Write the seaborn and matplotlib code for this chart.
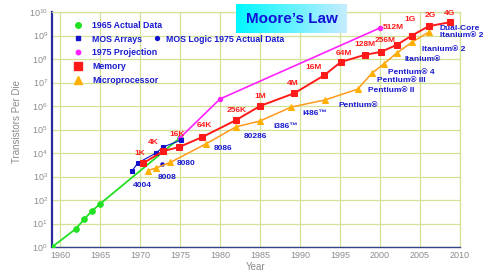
import numpy as np
import matplotlib
matplotlib.use("Agg")
import matplotlib.pyplot as plt
from matplotlib.lines import Line2D
from matplotlib.colors import LinearSegmentedColormap
import seaborn as sns

# --- data ---
# 1965 actual data (green)
actual_years = [1959, 1962, 1963, 1964, 1965, 1975]
actual_vals = [1, 6, 15, 34, 68, 4.4e4]

# 1975 projection (magenta)
proj_years = [1975, 1980, 2000]
proj_vals = [4.4e4, 2e6, 2.1e9]

# MOS arrays (blue squares) and MOS logic (blue dot)
mos_arr_years = [1969, 1969.7, 1972, 1972.9, 1975.1]
mos_arr_vals = [1.7e3, 3.7e3, 1e4, 1.8e4, 3.5e4]
mos_logic_years = [1972.8]
mos_logic_vals = [3.4e3]

# Memory (red)
mem_years = [1970.4, 1972.9, 1974.9, 1977.8, 1982, 1985, 1989.3, 1993,
             1995.1, 1998.1, 2000.1, 2002.1, 2004, 2006.1, 2008.8]
mem_vals = [3.7e3, 1.2e4, 1.8e4, 4.8e4, 2.5e5, 1e6, 3.5e6, 2e7,
            7.4e7, 1.5e8, 2e8, 4e8, 1e9, 2.5e9, 3.7e9]
mem_labels = ["1K", "4K", "16K", "64K", "256K", "1M", "4M", "16M",
              "64M", "128M", "256M", "", "1G", "2G", "4G"]

# Microprocessor (orange)
cpu_years = [1971, 1972, 1973.8, 1978.2, 1982, 1985, 1988.9, 1993.1,
             1997.2, 1999, 2000.5, 2002.1, 2004, 2006.1]
cpu_vals = [1.8e3, 2.3e3, 4e3, 2.4e4, 1.3e5, 2.3e5, 9e5, 1.8e6,
            5.2e6, 2.5e7, 6.3e7, 1.8e8, 5.2e8, 1.4e9]
cpu_labels = ["4004", "8008", "8080", "8086", "80286", "i386™", "i486™",
              "Pentium®", "Pentium® II", "Pentium® III", "Pentium® 4",
              "Itanium®", "Itanium® 2", "Dual-Core\nItanium® 2"]

year_ticks = [1960, 1965, 1970, 1975, 1980, 1985, 1990, 1995, 2000, 2005, 2010]
decades = [10.0 ** k for k in range(11)]

# label offsets in pixels (dx, dy, ha)
mem_offsets = [(-3, 10), (-10, 9), (-2, 13), (2, 11), (1, 10), (0, 9), (-2, 10),
               (-10, 8), (3, 9), (0, 10), (4, 11), (0, 0), (-2, 16), (1, 11), (-1, 9)]
cpu_offsets = [(-6, -15, "center"), (11, -10, "center"), (16, -1, "center"),
               (17, -4, "center"), (19, -10, "center"), (13, -6, "left"),
               (11, -6, "left"), (14, -5, "left"), (10, -1, "left"),
               (5, -7, "left"), (4, -9, "left"), (8, -6, "left"),
               (10, -7, "left"), (11, 0, "left")]

GREEN = "#22e022"
MAGENTA = "#ff22ff"
BLUE = "#1111cc"
RED = "#ff1a1a"
ORANGE = "#ff9a1a"
TRI = "#ffb000"
TXT = "#1a1ad0"
GRID = "#d2e296"
GRAY = "#8c8c8c"

sns.set_theme(style="whitegrid")
plt.rcParams["font.family"] = ["Liberation Sans", "DejaVu Sans"]

fig = plt.figure(figsize=(4.88, 2.76), dpi=100)
ax = fig.add_axes([52 / 488, 29 / 276, 408 / 488, 235 / 276])
ax.set_facecolor("white")

sns.lineplot(x=actual_years, y=actual_vals, ax=ax, color=GREEN, lw=1.3,
             marker="o", markersize=4, markeredgecolor=GREEN, sort=False, zorder=3)
sns.lineplot(x=proj_years, y=proj_vals, ax=ax, color=MAGENTA, lw=1.2,
             marker="o", markersize=3.2, markeredgecolor=MAGENTA, sort=False, zorder=3)
sns.lineplot(x=mos_arr_years, y=mos_arr_vals, ax=ax, color=BLUE, lw=0.8,
             marker="s", markersize=3.5, markeredgecolor=BLUE, sort=False, zorder=4)
sns.scatterplot(x=mos_logic_years, y=mos_logic_vals, ax=ax, color=BLUE,
                s=9, marker="o", edgecolor=BLUE, zorder=4)
sns.lineplot(x=cpu_years, y=cpu_vals, ax=ax, color=ORANGE, lw=1.1,
             marker="^", markersize=4.5, markerfacecolor=TRI, markeredgecolor=TRI,
             sort=False, zorder=5)
sns.lineplot(x=mem_years, y=mem_vals, ax=ax, color=RED, lw=1.4,
             marker="s", markersize=5, markeredgecolor=RED, sort=False, zorder=6)

ax.set_yscale("log")
ax.set_xlim(1959, 2010)
ax.set_ylim(1, 1e10)
ax.set_xticks(year_ticks)
ax.set_yticks(decades)
ax.minorticks_off()
ax.grid(True, color=GRID, lw=0.9)
ax.tick_params(axis="both", labelsize=6.5, colors=GRAY, length=0, pad=3)

for side in ["top", "right"]:
    ax.spines[side].set_color(GRID)
    ax.spines[side].set_linewidth(0.9)
ax.spines["left"].set_color("#2b2b9e")
ax.spines["left"].set_linewidth(1.6)
ax.spines["bottom"].set_color("#34448a")
ax.spines["bottom"].set_linewidth(1.0)

ax.set_xlabel("Year", fontsize=7, color=GRAY, labelpad=1)
ax.set_ylabel("Transistors Per Die", fontsize=7, color=GRAY)
ax.yaxis.set_label_coords(-0.074, 0.536)

# point labels
for x, y, t, (dx, dy) in zip(mem_years, mem_vals, mem_labels, mem_offsets):
    if t:
        ax.annotate(t, (x, y), xytext=(dx, dy), textcoords="offset pixels",
                    ha="center", va="center", fontsize=6, fontweight="bold",
                    color=RED, annotation_clip=False, zorder=7)
ax.annotate("512M", (proj_years[-1], proj_vals[-1]), xytext=(3, 0),
            textcoords="offset pixels", ha="left", va="center", fontsize=6,
            fontweight="bold", color=RED, zorder=7)
for x, y, t, (dx, dy, ha) in zip(cpu_years, cpu_vals, cpu_labels, cpu_offsets):
    ax.annotate(t, (x, y), xytext=(dx, dy), textcoords="offset pixels",
                ha=ha, va="center", fontsize=6, fontweight="bold", color=TXT,
                linespacing=1.15, annotation_clip=False, zorder=7)

# legend
handles = [
    Line2D([], [], ls="", marker="o", ms=4, color=GREEN),
    Line2D([], [], ls="", marker="s", ms=3.5, color=BLUE),
    Line2D([], [], ls="", marker="o", ms=3.2, color=MAGENTA),
    Line2D([], [], ls="", marker="s", ms=5.5, color=RED),
    Line2D([], [], ls="", marker="^", ms=5.5, color=TRI),
]
names = ["1965 Actual Data", "MOS Arrays", "1975 Projection", "Memory", "Microprocessor"]
leg = ax.legend(handles, names, loc="upper left", bbox_to_anchor=(0.053, 0.963),
                frameon=False, fontsize=6.3, labelspacing=0.55, handlelength=1.0,
                handletextpad=1.1, borderpad=0, borderaxespad=0,
                prop={"weight": "bold", "size": 6.3})
for t in leg.get_texts():
    t.set_color(TXT)
ax.add_artist(leg)
leg2 = ax.legend([Line2D([], [], ls="", marker="o", ms=2.8, color=BLUE)],
                 ["MOS Logic 1975 Actual Data"], loc="upper left",
                 bbox_to_anchor=(0.2466, 0.904), frameon=False, handlelength=1.0,
                 handletextpad=0.5, borderpad=0, borderaxespad=0,
                 prop={"weight": "bold", "size": 6.3})
for t in leg2.get_texts():
    t.set_color(TXT)

# title box with cyan gradient
tax = fig.add_axes([236 / 488, 1 - 33 / 276, 111 / 488, 29 / 276])
cmap = LinearSegmentedColormap.from_list("cy", ["#00f8ff", "#c6ecff"])
tax.imshow(np.linspace(0, 1, 100).reshape(1, -1), aspect="auto", cmap=cmap,
           extent=(0, 1, 0, 1))
tax.set_axis_off()
tax.text(0.5, 0.47, "Moore’s Law", ha="center", va="center", fontsize=11,
         fontweight="bold", color="#1212d8", transform=tax.transAxes)

fig.savefig("out.png", dpi=100, facecolor="white")
